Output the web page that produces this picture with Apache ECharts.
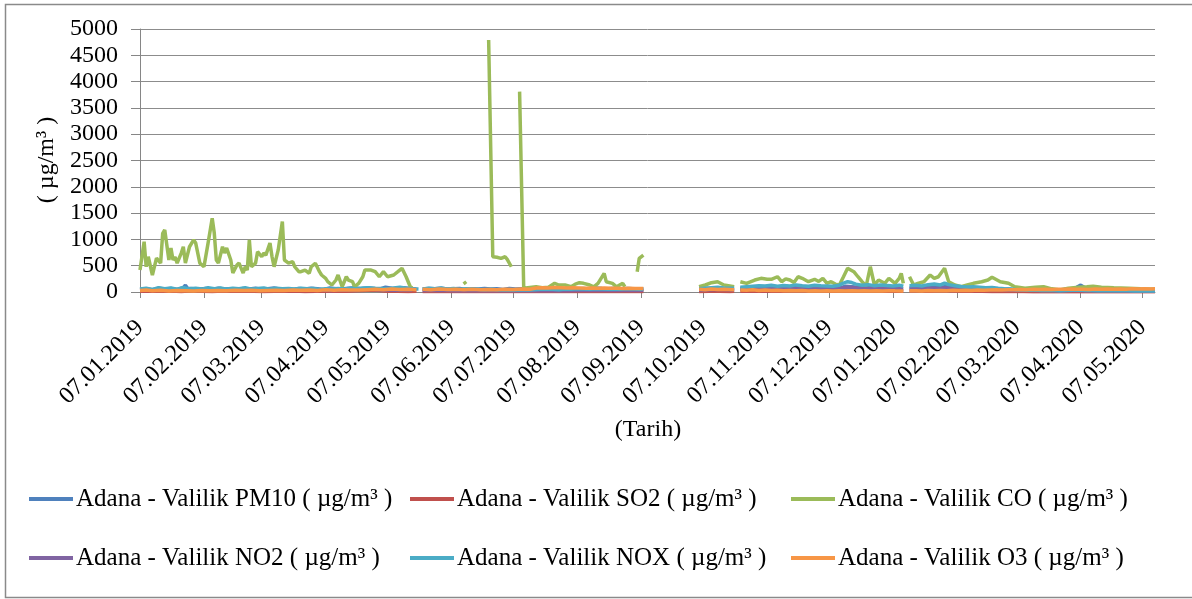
<!DOCTYPE html>
<html>
<head>
<meta charset="utf-8">
<script src="https://cdn.jsdelivr.net/npm/echarts@6/dist/echarts.min.js"></script>
<style>
html,body{margin:0;padding:0;background:#fff;}
#chart{width:1192px;height:599px;}
</style>
</head>
<body>
<div id="chart"></div>
<script>
// ---- DATA ----
// Daily categories: 07.01.2019 .. 13.05.2020
const startDate = '2019-01-07';
const endDate = '2020-05-13';
// Tick labels shown on the axis
const monthLabels = ['07.01.2019','07.02.2019','07.03.2019','07.04.2019','07.05.2019','07.06.2019',
  '07.07.2019','07.08.2019','07.09.2019','07.10.2019','07.11.2019','07.12.2019',
  '07.01.2020','07.02.2020','07.03.2020','07.04.2020','07.05.2020'];
const seriesNames = ['Adana - Valilik PM10 ( µg/m³ )','Adana - Valilik SO2 ( µg/m³ )','Adana - Valilik CO ( µg/m³ )',
  'Adana - Valilik NO2 ( µg/m³ )','Adana - Valilik NOX ( µg/m³ )','Adana - Valilik O3 ( µg/m³ )'];
// values as [day index into dates, value]; null = missing
const pm10 = [[0,50],[3,60],[6,45],[9,70],[12,55],[15,65],[18,50],[21,80],[22,130],[23,70],[26,60],[29,55],[32,65],[35,50],[38,70],[41,55],[44,60],[47,45],[50,65],[53,55],[56,70],[59,50],[62,60],[65,75],[68,55],[71,60],[74,50],[77,65],[80,55],[83,70],[86,60],[89,50],[92,75],[95,60],[98,55],[101,70],[104,80],[107,60],[110,75],[113,65],[116,55],[119,90],[122,70],[125,60],[128,80],[131,65],[134,55],[135,null],
  [137,55],[140,65],[143,60],[146,70],[149,55],[152,60],[155,65],[158,50],[161,60],[164,55],[167,65],[170,55],[173,60],[176,50],[179,65],[182,55],[185,60],[188,50],[191,55],[194,65],[197,70],[200,60],[203,65],[206,55],[209,70],[212,60],[215,65],[218,55],[221,75],[224,65],[227,60],[230,70],[233,55],[236,65],[239,60],[242,55],[244,60],[245,null],
  [271,60],[274,70],[277,65],[280,75],[283,60],[288,65],[289,null],[291,70],[294,80],[297,75],[300,90],[303,85],[306,95],[309,80],[312,90],[315,85],[318,100],[321,90],[324,80],[327,95],[330,85],[333,90],[336,80],[339,75],[342,110],[345,100],[348,90],[351,80],[354,95],[357,85],[360,80],[363,90],[366,85],[369,95],[371,null],
  [373,85],[376,80],[379,90],[382,95],[385,100],[388,90],[391,105],[394,85],[397,75],[400,70],[403,65],[406,60],[409,65],[412,55],[415,60],[418,50],[421,55],[424,45],[427,50],[430,40],[433,45],[436,50],[439,40],[442,45],[445,40],[448,50],[451,45],[454,90],[456,130],[458,80],[461,50],[464,45],[467,40],[470,50],[473,45],[476,40],[479,35],[482,45],[485,40],[488,35],[492,40]];
const so2 = [[0,15],[5,20],[10,12],[15,18],[20,10],[25,22],[30,15],[35,10],[40,18],[45,12],[50,20],[55,15],[60,10],[65,16],[70,12],[75,18],[80,10],[85,14],[90,12],[95,20],[100,15],[105,25],[110,35],[113,40],[116,30],[120,15],[125,12],[130,10],[134,12],[135,null],
  [137,10],[142,12],[147,8],[152,10],[157,12],[162,8],[167,10],[172,14],[177,10],[182,12],[187,8],[192,10],[197,12],[202,9],[207,11],[212,8],[217,10],[222,12],[227,9],[232,11],[237,10],[242,8],[244,9],[245,null],
  [271,10],[276,12],[281,15],[286,10],[288,12],[289,null],[291,14],[296,18],[301,15],[306,20],[311,16],[316,18],[321,22],[326,17],[331,20],[336,15],[341,25],[346,20],[351,18],[356,22],[361,16],[366,20],[370,15],[371,null],
  [373,18],[378,20],[383,15],[388,22],[393,18],[398,14],[403,12],[408,15],[413,10],[418,12],[423,8],[428,10],[433,7],[438,9],[443,6],[448,8],[453,7],[458,9],[463,6],[468,8],[473,5],[478,7],[483,6],[488,8],[492,6]];
const co = [[0,420],[2,955],[3,480],[4,670],[6,323],[8,645],[10,550],[11,1115],[12,1180],[14,608],[15,836],[16,608],[17,665],[18,550],[20,740],[21,860],[22,550],[24,860],[26,990],[27,930],[29,550],[31,480],[33,930],[35,1400],[36,1120],[37,608],[38,550],[40,860],[41,740],[42,836],[44,608],[45,360],[47,513],[48,550],[50,360],[51,480],[52,418],[53,990],[54,480],[56,550],[57,766],[59,670],[60,740],[61,700],[63,930],[64,670],[65,480],[67,800],[69,1340],[70,608],[72,550],[74,576],[75,480],[77,386],[78,386],[80,418],[82,355],[83,480],[85,545],[87,386],[88,323],[90,260],[91,196],[93,133],[95,228],[96,323],[98,100],[100,290],[101,228],[103,196],[104,100],[106,165],[108,290],[109,418],[112,418],[114,386],[116,290],[118,386],[120,290],[123,323],[125,386],[127,450],[129,290],[131,100],[132,76],[133,null],
  [157,200],[158,150],[159,null],
  [169,4790],[171,670],[173,660],[175,640],[177,670],[178,620],[180,480],[181,null],
  [184,3810],[186,70],[188,80],[190,90],[192,100],[195,80],[198,90],[201,165],[203,133],[206,133],[209,100],[211,150],[213,177],[215,165],[218,133],[220,100],[222,165],[225,355],[226,196],[229,165],[231,100],[234,165],[235,100],[236,null],
  [241,386],[242,640],[244,703],[245,null],
  [271,100],[274,133],[277,177],[280,196],[283,133],[288,100],[289,null],
  [291,196],[294,165],[298,228],[301,260],[304,241],[306,241],[309,290],[311,196],[313,250],[315,228],[317,180],[319,290],[321,260],[324,196],[327,241],[329,200],[331,260],[333,165],[335,196],[337,150],[339,133],[341,290],[343,450],[346,386],[348,290],[350,196],[352,114],[354,480],[356,133],[358,228],[361,165],[363,260],[366,165],[368,260],[369,355],[370,165],[371,null],
  [373,290],[375,133],[377,165],[380,196],[383,323],[385,260],[387,290],[390,450],[392,196],[395,133],[398,100],[401,133],[404,165],[408,196],[411,228],[413,280],[417,196],[421,165],[424,100],[429,70],[434,90],[438,100],[442,60],[446,38],[450,70],[455,90],[459,100],[462,110],[466,90],[472,80],[479,70],[485,60],[492,50]];
const no2 = [[0,35],[4,45],[8,40],[12,50],[16,38],[20,45],[24,40],[28,48],[32,36],[36,44],[40,38],[44,46],[48,35],[52,42],[56,38],[60,45],[64,40],[68,36],[72,42],[76,34],[80,38],[84,32],[88,36],[92,30],[96,34],[100,38],[104,42],[108,50],[112,55],[116,45],[120,38],[124,35],[128,40],[132,36],[135,null],
  [137,30],[142,28],[147,32],[152,26],[157,30],[162,25],[167,28],[172,24],[177,27],[182,25],[187,22],[192,26],[197,24],[202,28],[207,25],[212,30],[217,27],[222,32],[227,28],[232,30],[237,34],[242,30],[244,32],[245,null],
  [271,40],[276,45],[281,50],[286,42],[288,45],[289,null],[291,50],[296,55],[301,60],[306,58],[311,65],[316,60],[321,70],[326,62],[331,68],[336,60],[340,75],[343,90],[346,85],[349,70],[352,65],[356,72],[361,68],[366,70],[370,62],[371,null],
  [373,60],[378,65],[383,70],[388,75],[392,80],[396,65],[400,55],[405,50],[410,45],[415,48],[420,40],[425,35],[430,32],[435,30],[440,28],[445,25],[450,28],[455,30],[460,25],[465,22],[470,25],[475,20],[480,22],[485,20],[492,18]];
const nox = [[0,55],[3,70],[6,50],[9,80],[12,60],[15,75],[18,55],[21,85],[24,60],[27,70],[30,55],[33,80],[36,60],[39,75],[42,55],[45,70],[48,60],[51,80],[54,55],[57,65],[60,75],[63,55],[66,70],[69,60],[72,65],[75,55],[78,70],[81,60],[84,65],[87,50],[90,60],[93,55],[96,65],[99,58],[102,70],[105,62],[108,75],[111,80],[114,70],[117,65],[120,60],[123,75],[126,90],[129,70],[132,60],[135,55],[136,null],
  [137,55],[140,70],[143,60],[146,75],[149,55],[152,65],[155,50],[158,60],[161,55],[164,50],[167,45],[170,50],[173,45],[176,40],[179,45],[182,40],[185,42],[188,38],[191,45],[194,50],[197,55],[200,50],[203,45],[206,55],[209,50],[212,60],[215,55],[218,50],[221,60],[224,55],[227,50],[230,58],[233,52],[236,60],[239,55],[242,50],[244,55],[245,null],
  [271,60],[274,70],[277,80],[280,90],[283,75],[288,70],[289,null],[291,90],[294,100],[297,110],[300,120],[303,115],[306,130],[309,110],[312,125],[315,115],[318,135],[321,120],[324,110],[327,130],[330,120],[333,115],[336,110],[339,130],[341,170],[343,196],[345,180],[347,150],[350,130],[353,140],[356,120],[359,135],[362,125],[365,115],[368,130],[370,110],[371,null],
  [373,120],[376,130],[379,115],[382,140],[385,150],[388,135],[390,170],[392,140],[395,120],[398,105],[401,95],[404,100],[407,90],[410,80],[413,85],[416,70],[419,60],[422,55],[425,45],[428,40],[431,35],[434,40],[437,30],[440,35],[443,30],[446,25],[449,30],[452,35],[455,40],[458,30],[461,28],[464,25],[467,30],[470,25],[473,28],[476,22],[479,25],[482,20],[485,22],[488,18],[492,20]];
const o3 = [[0,30],[3,40],[6,25],[10,35],[14,20],[18,30],[22,25],[26,20],[30,28],[34,22],[38,30],[42,25],[46,35],[50,28],[54,32],[58,25],[62,30],[66,35],[70,28],[74,40],[78,32],[82,38],[86,30],[90,42],[94,35],[98,45],[102,38],[106,40],[110,45],[114,50],[118,42],[122,55],[126,48],[130,50],[134,45],[135,null],
  [137,50],[141,45],[145,55],[149,48],[153,52],[157,45],[161,50],[165,42],[169,48],[173,45],[177,50],[181,48],[185,55],[189,52],[192,75],[195,80],[198,78],[201,85],[204,80],[207,75],[210,82],[213,78],[216,70],[219,75],[222,72],[225,78],[228,70],[231,72],[234,65],[237,70],[240,68],[244,65],[245,null],
  [271,50],[274,45],[277,55],[280,48],[283,52],[288,45],[289,null],[291,40],[294,35],[297,42],[300,30],[303,38],[306,28],[309,35],[312,25],[315,30],[318,22],[321,28],[324,20],[327,25],[330,18],[333,22],[336,20],[339,25],[342,18],[345,22],[348,20],[351,25],[354,18],[357,22],[360,20],[363,25],[366,22],[370,20],[371,null],
  [373,22],[376,25],[379,20],[382,28],[385,22],[388,30],[391,25],[394,32],[397,28],[400,35],[403,30],[406,38],[409,35],[412,40],[415,42],[418,40],[421,45],[424,42],[427,48],[430,45],[433,50],[436,46],[439,52],[442,48],[445,54],[448,50],[451,55],[454,50],[457,52],[460,48],[463,55],[466,50],[469,56],[472,52],[475,58],[478,54],[481,60],[484,56],[487,62],[490,58],[492,60]];
const colors = ['#4F81BD','#C0504D','#9BBB59','#8064A2','#4BACC6','#F79646'];
const yTicks = {min:0, max:5000, interval:500};

// ---- BUILD ----
function pad(n){return (n<10?'0':'')+n;}
const dates = [];
(function(){
  let t = Date.parse(startDate+'T00:00:00Z');
  const tEnd = Date.parse(endDate+'T00:00:00Z');
  while (t <= tEnd) {
    const d = new Date(t);
    dates.push(pad(d.getUTCDate())+'.'+pad(d.getUTCMonth()+1)+'.'+d.getUTCFullYear());
    t += 86400000;
  }
})();
const showLabel = (i, v) => monthLabels.indexOf(v) >= 0;
const FONT = "'Liberation Serif','Times New Roman',serif";
const allData = [pm10, so2, co, no2, nox, o3];

const chart = echarts.init(document.getElementById('chart'), null, {renderer:'canvas'});
chart.setOption({
  animation:false,
  backgroundColor:'#fff',
  color: colors,
  grid:{left:140, right:37, top:29, bottom:307, containLabel:false},
  xAxis:{
    type:'category', data:dates, boundaryGap:false,
    axisLine:{show:true, lineStyle:{color:'#868686', width:1}},
    axisTick:{show:true, interval:showLabel, length:6, lineStyle:{color:'#868686'}},
    axisLabel:{interval:showLabel, rotate:45, margin:32, color:'#000', fontSize:24, fontFamily:FONT},
    splitLine:{show:false}
  },
  yAxis:{
    type:'value', min:yTicks.min, max:yTicks.max, interval:yTicks.interval,
    axisLine:{show:true, lineStyle:{color:'#868686', width:1}},
    axisTick:{show:true, length:9, lineStyle:{color:'#868686'}},
    axisLabel:{margin:22, color:'#000', fontSize:24, fontFamily:FONT, formatter:(v)=>String(v)},
    splitLine:{show:true, lineStyle:{color:'#8c8c8c', width:1}}
  },
  legend:[
    {orient:'vertical', left:29, top:484, data:[seriesNames[0], seriesNames[3]]},
    {orient:'vertical', left:410, top:484, data:[seriesNames[1], seriesNames[4]]},
    {orient:'vertical', left:791, top:484, data:[seriesNames[2], seriesNames[5]]}
  ].map(l => Object.assign(l, {icon:'rect', itemWidth:44, itemHeight:4, itemGap:29, padding:0,
      textStyle:{fontSize:25, fontFamily:FONT, color:'#000', lineHeight:30, padding:[0,0,0,-2]}})),
  graphic:[
    {type:'rect', shape:{x:5.5, y:4.5, width:1300, height:593}, style:{fill:null, stroke:'#8a8a8a', lineWidth:1.5}, silent:true},
    {type:'text', x:648, y:430, style:{text:'(Tarih)', font:'24px '+FONT, fill:'#000', textAlign:'center', textVerticalAlign:'middle'}},
    {type:'text', x:47, y:160, rotation:Math.PI/2, style:{text:'( µg/m³ )', font:'24px '+FONT, fill:'#000', textAlign:'center', textVerticalAlign:'middle'}}
  ],
  series: seriesNames.map((n, i) => ({
    name:n, type:'line', data:allData[i], showSymbol:false, symbol:'none', connectNulls:false,
    lineStyle:{width:3.5, color:colors[i]}, itemStyle:{color:colors[i]}, z:2+i
  }))
});
</script>
</body>
</html>
